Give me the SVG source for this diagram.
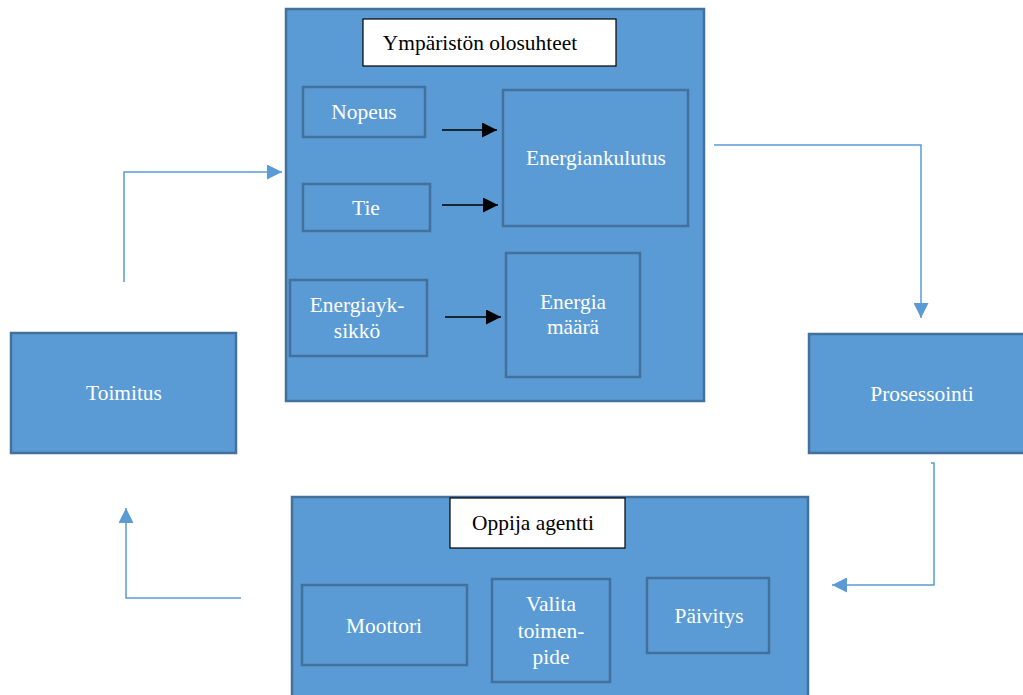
<svg xmlns="http://www.w3.org/2000/svg" width="1023" height="695" viewBox="0 0 1023 695">
<style>
.box{fill:#5B9BD5;stroke:#41719C;stroke-width:2.5}
.title{fill:#FFFFFF;stroke:#000000;stroke-width:1.2}
text{font-family:'Liberation Serif','DejaVu Serif','Times New Roman',serif;font-size:21.4px;text-anchor:middle}
.w{fill:#FFFFFF}
.k{fill:#000000}
.conn{fill:none;stroke:#5B9BD5;stroke-width:1.5}
.blk{fill:none;stroke:#000000;stroke-width:1.5}
</style>
<defs>
<marker id="ab" markerWidth="15" markerHeight="15" refX="15" refY="7.5" orient="auto" markerUnits="userSpaceOnUse">
<path d="M0,0 L15,7.5 L0,15 Z" fill="#5B9BD5"/>
</marker>
<marker id="ak" markerWidth="15" markerHeight="15" refX="15" refY="7.5" orient="auto" markerUnits="userSpaceOnUse">
<path d="M0,0 L15,7.5 L0,15 Z" fill="#000000"/>
</marker>
</defs>

<g id="ymparisto">
<rect class="box" x="286" y="9" width="418" height="392"/>
<rect class="title" x="363" y="19" width="253" height="47"/>
<text class="k" x="480" y="50">Ympäristön olosuhteet</text>
</g>
<g id="nopeus">
<rect class="box" x="303" y="87" width="122" height="50"/>
<text class="w" x="364" y="119">Nopeus</text>
</g>
<g id="tie">
<rect class="box" x="303" y="184" width="127" height="47"/>
<text class="w" x="366" y="215">Tie</text>
</g>
<g id="energiayksikko">
<rect class="box" x="290" y="280" width="137" height="76"/>
<text class="w" x="357" y="312">Energiayk-</text>
<text class="w" x="357" y="338">sikkö</text>
</g>
<g id="energiankulutus">
<rect class="box" x="503" y="90" width="185" height="136"/>
<text class="w" x="596" y="165">Energiankulutus</text>
</g>
<g id="energiamaara">
<rect class="box" x="506" y="253" width="134" height="124"/>
<text class="w" x="573" y="309">Energia</text>
<text class="w" x="573" y="334">määrä</text>
</g>
<g id="toimitus">
<rect class="box" x="11" y="333" width="225" height="120"/>
<text class="w" x="124" y="400">Toimitus</text>
</g>
<g id="prosessointi">
<rect class="box" x="809" y="334" width="216" height="119"/>
<text class="w" x="922" y="401">Prosessointi</text>
</g>
<g id="oppija">
<rect class="box" x="292" y="497" width="516" height="200"/>
<rect class="title" x="450" y="498" width="175" height="50"/>
<text class="k" x="533" y="530">Oppija agentti</text>
</g>
<g id="moottori">
<rect class="box" x="302" y="585" width="165" height="80"/>
<text class="w" x="384" y="633">Moottori</text>
</g>
<g id="valita">
<rect class="box" x="492" y="579" width="118" height="103"/>
<text class="w" x="551" y="611">Valita</text>
<text class="w" x="551" y="638">toimen-</text>
<text class="w" x="551" y="664">pide</text>
</g>
<g id="paivitys">
<rect class="box" x="647" y="578" width="122" height="75"/>
<text class="w" x="709" y="623">Päivitys</text>
</g>

<g id="connectors">
<line class="blk" x1="442" y1="130" x2="497" y2="130" marker-end="url(#ak)"/>
<line class="blk" x1="442" y1="205" x2="498" y2="205" marker-end="url(#ak)"/>
<line class="blk" x1="445" y1="317" x2="501" y2="317" marker-end="url(#ak)"/>
<polyline class="conn" points="124,282 124,172 282,172" marker-end="url(#ab)"/>
<polyline class="conn" points="714,145 921,145 921,318" marker-end="url(#ab)"/>
<polyline class="conn" points="931,463 934,463 934,585 832,585" marker-end="url(#ab)"/>
<polyline class="conn" points="241,598 126,598 126,508" marker-end="url(#ab)"/>
</g>
</svg>
